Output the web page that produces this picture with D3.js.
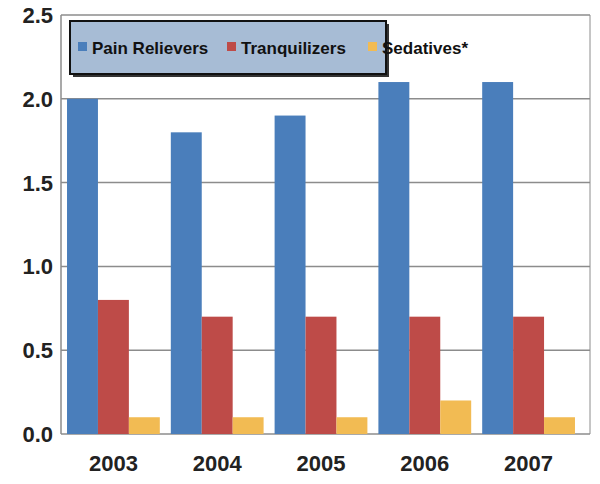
<!DOCTYPE html><html><head><script src="https://cdn.jsdelivr.net/npm/d3@7"></script>
<style>body{margin:0;background:#fff}</style></head><body><svg width="600" height="484"></svg>
<script>
const years=["2003","2004","2005","2006","2007"];
const seriesNames=["Pain Relievers","Tranquilizers","Sedatives*"];
const painRelievers=[2.0,1.8,1.9,2.1,2.1];
const tranquilizers=[0.8,0.7,0.7,0.7,0.7];
const sedatives=[0.1,0.1,0.1,0.2,0.1];
const yTicks=[0,0.5,1.0,1.5,2.0,2.5];
const colors=["#4a7ebb","#be4b48","#f2bb53"];
const data=[painRelievers,tranquilizers,sedatives];
const svg=d3.select("svg");
const L=61,R=590,T=15,B=434;
const x=d3.scaleBand().domain(years).range([L,581]).paddingInner(0.106).paddingOuter(0.058);
const xs=d3.scaleBand().domain(d3.range(3)).range([0,x.bandwidth()]);
const y=d3.scaleLinear().domain([0,2.5]).range([B,T]);
svg.append("g").selectAll("line").data(yTicks).join("line").attr("x1",L).attr("x2",R)
 .attr("y1",d=>y(d)).attr("y2",d=>y(d)).attr("stroke","#8c8c8c").attr("stroke-width",1.5);
svg.append("line").attr("x1",L).attr("x2",L).attr("y1",T).attr("y2",B).attr("stroke","#8c8c8c").attr("stroke-width",1.5);
svg.append("line").attr("x1",R).attr("x2",R).attr("y1",T).attr("y2",B).attr("stroke","#8c8c8c").attr("stroke-width",1);
data.forEach((s,i)=>{
 svg.append("g").selectAll("rect").data(s).join("rect")
  .attr("x",(d,j)=>x(years[j])+xs(i)).attr("width",xs.bandwidth())
  .attr("y",d=>y(d)).attr("height",d=>B-y(d)).attr("fill",colors[i]);
});
svg.append("g").selectAll("text").data(yTicks).join("text").attr("x",53).attr("y",d=>y(d)+8)
 .attr("text-anchor","end").attr("font-family","Liberation Sans, Arial").attr("font-weight","bold")
 .attr("font-size",22).attr("fill","#222").text(d=>d.toFixed(1));
svg.append("g").selectAll("text").data(years).join("text").attr("x",d=>x(d)+x.bandwidth()/2).attr("y",471)
 .attr("text-anchor","middle").attr("font-family","Liberation Sans, Arial").attr("font-weight","bold")
 .attr("font-size",22).attr("fill","#222").text(d=>d);
const lg=svg.append("g");
lg.append("rect").attr("x",73).attr("y",24).attr("width",316).attr("height",53).attr("fill","#333");
lg.append("rect").attr("x",70).attr("y",21).attr("width",316).attr("height",53).attr("fill","#a7bcd5").attr("stroke","#111").attr("stroke-width",2);
const lx=[78,227,368];
seriesNames.forEach((n,i)=>{
 lg.append("rect").attr("x",lx[i]).attr("y",42).attr("width",9).attr("height",9).attr("fill",colors[i]);
 lg.append("text").attr("x",lx[i]+14).attr("y",54).attr("font-family","Liberation Sans, Arial").attr("font-weight","bold")
  .attr("font-size",17).attr("fill","#111").text(n);
});
</script></body></html>
